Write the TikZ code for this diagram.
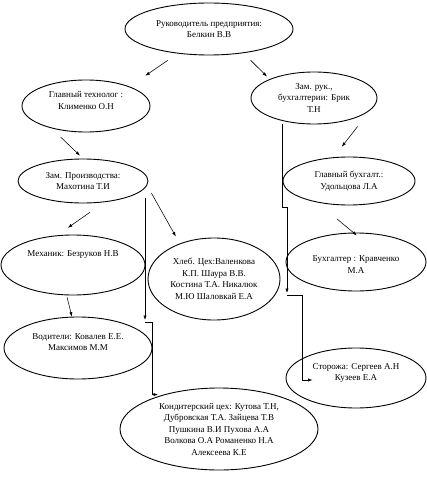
\documentclass[tikz,border=0pt]{standalone}
\usepackage{fontspec}
\setmainfont{Liberation Serif}
\usetikzlibrary{arrows.meta, shapes.geometric}
\tikzset{
  oval/.style 2 args={ellipse, draw, line width=0.9pt, inner sep=0pt, align=center,
    minimum width=#1, minimum height=#2, font=\fontsize{9}{11.5}\selectfont},
  conn/.style={line width=0.55pt},
  arr/.style={conn, -{Latex[length=4.5pt, width=3.2pt]}},
}
\begin{document}
\begin{tikzpicture}[x=1pt, y=-1pt]
\useasboundingbox (0,0) rectangle (427,481);
% staff ovals
\node[oval={168pt}{52pt}] (boss)    at (209,29)  {Руководитель предприятия:\\ Белкин В.В};
\node[oval={128pt}{52pt}] (tech)    at (86,106)  {Главный технолог :\\ Клименко О.Н\\ \mbox{}};
\node[oval={126pt}{52pt}] (buh0)    at (314,98)  {Зам. рук.,\\ бухгалтерии: Брик\\ Т.Н};
\node[oval={130pt}{44pt}] (prod)    at (83,181)  {Зам. Производства:\\ Махотина Т.И};
\node[oval={132pt}{48pt}] (glbuh)   at (349,181) {Главный бухгалт.:\\ Удольцова Л.А};
\node[oval={144pt}{60pt}] (mech)    at (73,265)  {Механик: Безруков Н.В\\ \mbox{}\\ \mbox{}};
\node[oval={132pt}{82pt}] (bread)   at (214,279) {Хлеб. Цех:Валенкова\\ К.П. Шаура В.В.\\ Костина Т.А. Никалюк\\ М.Ю Шаловкай Е.А};
\node[oval={140pt}{58pt}] (buh)     at (356,262) {\mbox{}\\ Бухгалтер : Кравченко\\ М.А};
\node[oval={148pt}{62pt}] (drivers) at (78,348)  {Водители: Ковалев Е.Е.\\ Максимов М.М\\ \mbox{}};
\node[oval={140pt}{60pt}] (guards)  at (356,378) {Сторожа: Сергеев А.Н\\ Кузеев Е.А\\ \mbox{}};
\node[oval={198pt}{82pt}] (candy)   at (219,429) {Кондитерский цех: Кутова Т.Н,\\ Дубровская Т.А. Зайцева Т.В\\ Пушкина В.И Пухова А.А\\ Волкова О.А Романенко Н.А\\ Алексеева К.Е};
% short arrows
\draw[arr, shorten <=12pt, shorten >=19pt] (boss.218) -- (tech.24);
\draw[arr, shorten <=10pt, shorten >=3.6pt] (boss.325) -- (buh0.157);
\draw[arr, shorten <=12.6pt, shorten >=4.2pt] (tech.213) -- (prod.90);
\draw[arr, shorten <=21pt, shorten >=13.3pt] (buh0.348) -- (glbuh.123);
\draw[arr, shorten <=17.3pt, shorten >=13pt] (prod.315) -- (mech.118);
\draw[arr, shorten <=8.8pt, shorten >=7.9pt] (prod.356) -- (bread.134);
\draw[arr, shorten <=26pt, shorten >=-4.4pt] (glbuh.214) -- (buh.95);
\draw[arr, shorten <=2pt] (mech.258) -- (drivers.101);
% elbow lines
\coordinate (j1) at (287,293);
\coordinate (j2) at (145,320);
\draw[arr] ([xshift=-32pt]buh0.south) -- ++(0,83) -- ++(5,0) -- (j1);
\draw[arr] ([yshift=-2pt]j1) -- ++(15,0) |- ([xshift=27pt,yshift=-2pt]guards.west);
\draw[arr] ([xshift=62pt,yshift=5pt]prod.south) -- (j2);
\draw[arr] ([yshift=-2pt]j2) -- ++(7,0) |- ([xshift=-61pt,yshift=-7pt]candy.north);
\end{tikzpicture}
\end{document}
